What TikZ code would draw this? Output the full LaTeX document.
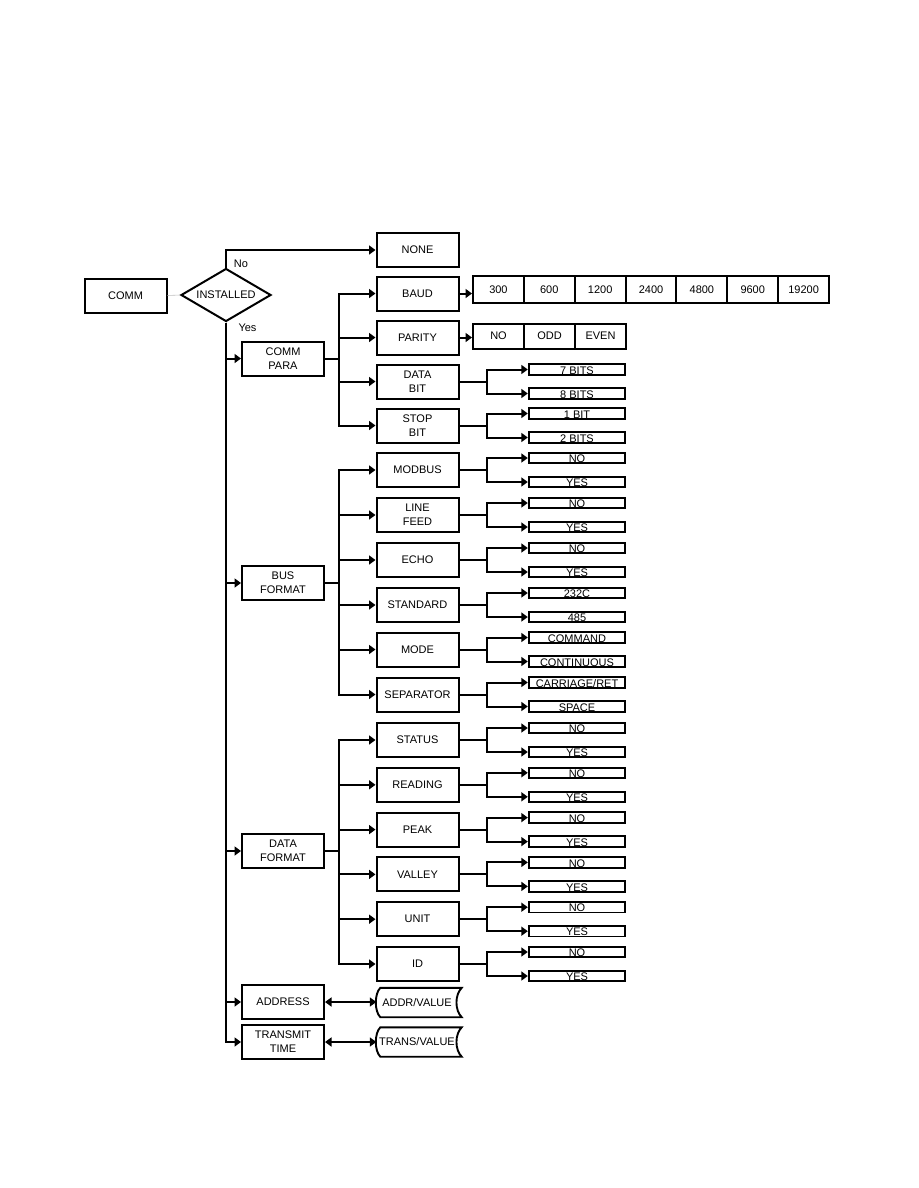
\documentclass[tikz,border=0pt]{standalone}
\usepackage{fontspec}
\setmainfont{Liberation Sans}
\usetikzlibrary{arrows.meta,shapes.geometric,calc}
\newcommand\mysubpair[3]{%
  \node[small] (#1a) at ($(#1.center)+(159.5,-12)$) {#2};
  \node[small] (#1b) at ($(#1.center)+(159.5,12)$) {#3};
  \draw[conn] (#1.east) -- ++(27.5,0) |- (#1a.west);
  \draw[conn] (#1.east) -- ++(27.5,0) |- (#1b.west);
}
\begin{document}
\begin{tikzpicture}[x=1pt,y=-1pt,
  every node/.style={font=\fontsize{11}{14}\selectfont, inner sep=0pt},
  box/.style={draw, line width=2pt, minimum width=82pt, minimum height=34pt, align=center},
  cell/.style={draw, line width=2pt, minimum width=50.86pt, minimum height=27pt},
  small/.style={draw, line width=1.9pt, minimum width=96.5pt, minimum height=10.5pt, text height=9.4pt, text depth=0pt},
  tip/.tip={Triangle[length=6.5pt,width=9pt]},
  conn/.style={line width=2pt, -tip},
  dconn/.style={line width=2pt, tip-tip},
  store/.style={line width=1.9pt}
]
\path[use as bounding box] (0,0) rectangle (918,1188);

% top level
\node[box] (comm) at (125.5,295.5) {COMM};
\node[diamond, draw, line width=2pt, minimum width=90pt, minimum height=53pt, aspect=1.7] (inst) at (226,295) {INSTALLED};
\draw[gray!50, line width=0.6pt] (comm.east) -- (inst.west);
\node[box] (none) at (417.5,250) {NONE};
\draw[conn] (inst.north) |- (none.west);
\node[anchor=center] (nolab) at (241,263.5) {No};
\node[anchor=center] (yeslab) at (247.5,327.5) {Yes};

% first level
\node[box] (commpara) at (283,358.5) {COMM\\PARA};
\node[box] (busformat) at (283,583) {BUS\\FORMAT};
\node[box] (dataformat) at (283,851) {DATA\\FORMAT};
\node[box] (address) at (283,1002) {ADDRESS};
\node[box] (transmit) at (283,1042) {TRANSMIT\\TIME};
\foreach \n in {commpara,busformat,dataformat,address,transmit}
  \draw[conn] (inst.south) |- (\n.west);

% COMM PARA children
\node[box] (baud) at (417.5,293.5) {BAUD};
\node[box] (parity) at (417.5,337.5) {PARITY};
\node[box] (databit) at (417.5,381.5) {DATA\\BIT};
\node[box] (stopbit) at (417.5,425.5) {STOP\\BIT};
\foreach \n in {baud,parity,databit,stopbit}
  \draw[conn] (commpara.east) -- ++(14,0) |- (\n.west);

\foreach \v [count=\i] in {300,600,1200,2400,4800,9600,19200}
  \node[cell] (baud\i) at ({473+50.86*(\i-0.5)},289.5) {\v};
\draw[conn] (baud.east) -- (baud.east -| baud1.west);
\foreach \v [count=\i] in {NO,ODD,EVEN}
  \node[cell, minimum width=51pt, minimum height=25pt] (par\i) at ({473+51*(\i-0.5)},336) {\v};
\draw[conn] (parity.east) -- (parity.east -| par1.west);
\mysubpair{databit}{7 BITS}{8 BITS}
\mysubpair{stopbit}{1 BIT}{2 BITS}

% BUS FORMAT children
\node[box] (modbus) at (417.5,470) {MODBUS};
\node[box] (linefeed) at (417.5,515) {LINE\\FEED};
\node[box] (echo) at (417.5,560) {ECHO};
\node[box] (standard) at (417.5,605) {STANDARD};
\node[box] (mode) at (417.5,649.5) {MODE};
\node[box] (separator) at (417.5,694.5) {SEPARATOR};
\foreach \n in {modbus,linefeed,echo,standard,mode,separator}
  \draw[conn] (busformat.east) -- ++(14,0) |- (\n.west);
\mysubpair{modbus}{NO}{YES}
\mysubpair{linefeed}{NO}{YES}
\mysubpair{echo}{NO}{YES}
\mysubpair{standard}{232C}{485}
\mysubpair{mode}{COMMAND}{CONTINUOUS}
\mysubpair{separator}{CARRIAGE/RET}{SPACE}

% DATA FORMAT children
\node[box] (status) at (417.5,740) {STATUS};
\node[box] (reading) at (417.5,784.8) {READING};
\node[box] (peak) at (417.5,829.6) {PEAK};
\node[box] (valley) at (417.5,874.4) {VALLEY};
\node[box] (unit) at (417.5,919.2) {UNIT};
\node[box] (id) at (417.5,964) {ID};
\foreach \n in {status,reading,peak,valley,unit,id}
  \draw[conn] (dataformat.east) -- ++(14,0) |- (\n.west);
\mysubpair{status}{NO}{YES}
\mysubpair{reading}{NO}{YES}
\mysubpair{peak}{NO}{YES}
\mysubpair{valley}{NO}{YES}
\mysubpair{unit}{NO}{YES}
\mysubpair{id}{NO}{YES}

% value entries
\node[minimum width=81pt, minimum height=29pt] (addrval) at (417,1002.5) {ADDR/VALUE};
\node[minimum width=81pt, minimum height=29pt] (transval) at (417,1042) {TRANS/VALUE};
\foreach \n in {addrval,transval}
  \draw[store] ($(\n.north west)+(4,0)$) -- ($(\n.north east)+(4,0)$)
    .. controls +(-7,7) and +(-7,-7) .. ($(\n.south east)+(4,0)$)
    -- ($(\n.south west)+(4,0)$)
    .. controls +(-6,-6) and +(-6,6) .. cycle;
\draw[dconn] (address.east) -- (address.east -| addrval.west);
\draw[dconn] (transmit.east) -- (transmit.east -| transval.west);
\end{tikzpicture}
\end{document}
